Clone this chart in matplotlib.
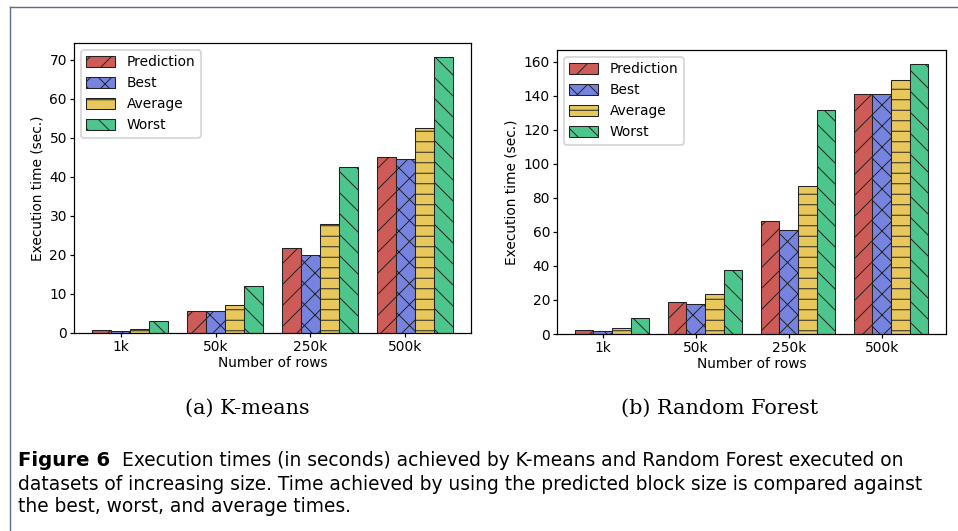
import matplotlib
matplotlib.use("Agg")
import matplotlib.pyplot as plt
import numpy as np
from matplotlib.lines import Line2D

categories = ["1k", "50k", "250k", "500k"]
series_names = ["Prediction", "Best", "Average", "Worst"]

kmeans_prediction = [0.8, 5.7, 21.8, 45.1]
kmeans_best = [0.5, 5.6, 19.9, 44.6]
kmeans_average = [1.0, 7.2, 28.0, 52.6]
kmeans_worst = [3.1, 12.1, 42.5, 70.7]

rf_prediction = [2.2, 18.8, 66.2, 141.2]
rf_best = [1.6, 17.4, 60.9, 141.2]
rf_average = [3.3, 23.3, 86.8, 149.6]
rf_worst = [9.4, 37.4, 131.4, 159.0]

colors = ["#cd5c58", "#7683df", "#e8c85a", "#4cc68c"]
hatches = ["//", "xx", "--", "\\\\"]

DPI = 126
W, H = 958, 531
plt.rcParams["hatch.linewidth"] = 0.55
plt.rcParams["axes.linewidth"] = 0.7
plt.rcParams["font.family"] = ["DejaVu Sans"]
FS = 7.9

fig = plt.figure(figsize=(W / DPI, H / DPI), dpi=DPI)


def draw(ax, data):
    x = np.arange(len(categories))
    w = 0.2
    for i, (vals, name) in enumerate(zip(data, series_names)):
        ax.bar(x + (i - 1) * w, vals, w, color=colors[i], edgecolor="#222222",
               linewidth=0.6, hatch=hatches[i], label=name)
    ax.set_xticks(x)
    ax.set_xticklabels(categories)
    ax.tick_params(labelsize=FS, width=0.7, length=2.5, pad=1.5)
    ax.set_xlabel("Number of rows", fontsize=FS, labelpad=1)
    ax.set_ylabel("Execution time (sec.)", fontsize=FS, labelpad=3)
    ax.legend(loc="upper left", fontsize=FS, handleheight=0.85, handlelength=2.1)


ax1 = fig.add_axes([74 / W, 1 - 333 / H, (471 - 74) / W, (333 - 43) / H])
draw(ax1, [kmeans_prediction, kmeans_best, kmeans_average, kmeans_worst])
ax2 = fig.add_axes([557 / W, 1 - 334 / H, (946 - 557) / W, (334 - 50) / H])
draw(ax2, [rf_prediction, rf_best, rf_average, rf_worst])

# page border
bc = "#5a6e8c"
fig.add_artist(Line2D([9.5 / W, 9.5 / W], [0, 1 - 7 / H], transform=fig.transFigure, color=bc, lw=0.8))
fig.add_artist(Line2D([9.5 / W, 1], [1 - 7 / H, 1 - 7 / H], transform=fig.transFigure, color=bc, lw=0.8))

# sub captions
fig.text(247 / W, 1 - 408 / H, "(a) K-means", ha="center", va="center",
         fontsize=11.9, family="DejaVu Serif")
fig.text(720 / W, 1 - 408 / H, "(b) Random Forest", ha="center", va="center",
         fontsize=11.9, family="DejaVu Serif")

# caption
cap_fs = 10.65
x0 = 18 / W
fig.text(x0, 1 - 461 / H, "Figure 6", ha="left", va="center", fontsize=cap_fs + 0.6,
         family="DejaVu Sans", weight="bold")
fig.text(122 / W, 1 - 461 / H,
         "Execution times (in seconds) achieved by K-means and Random Forest executed on",
         ha="left", va="center", fontsize=cap_fs, family="DejaVu Sans")
fig.text(x0, 1 - 484 / H,
         "datasets of increasing size. Time achieved by using the predicted block size is compared against",
         ha="left", va="center", fontsize=cap_fs, family="DejaVu Sans")
fig.text(x0, 1 - 507 / H, "the best, worst, and average times.",
         ha="left", va="center", fontsize=cap_fs, family="DejaVu Sans")

fig.savefig("out.png", dpi=DPI)
